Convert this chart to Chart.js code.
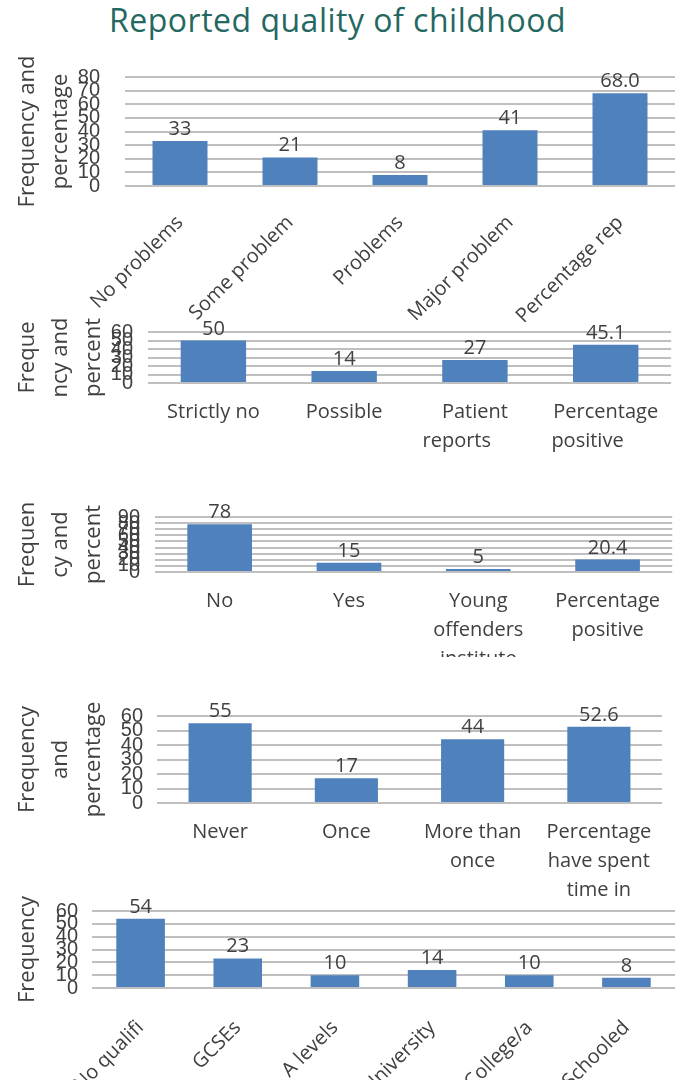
<!DOCTYPE html>
<html>
<head>
<meta charset="utf-8">
<script src="https://cdn.jsdelivr.net/npm/chart.js@4.4.1/dist/chart.umd.min.js"></script>
<style>
  body { margin: 0; background: #fff; width: 675px; height: 1080px; position: relative; overflow: hidden; }
  #title {
    position: absolute; top: 4px; left: 0; width: 675px; margin: 0;
    text-align: center; font: 400 32px "Open Sans", sans-serif; line-height: 1;
    letter-spacing: 0.5px; color: #256862;
  }
  canvas { position: absolute; left: 0; }
</style>
</head>
<body>
<h1 id="title">Reported quality of childhood</h1>
<canvas id="c1"></canvas>
<canvas id="c2"></canvas>
<canvas id="c3"></canvas>
<canvas id="c4"></canvas>
<canvas id="c5"></canvas>
<script>
// Panel 1 - quality of childhood
const childhoodLabels = ["No problems", "Some problem", "Problems", "Major problem", "Percentage rep"];
const childhoodValues = [33, 21, 8, 41, 68.0];
const childhoodDecimals = [0, 0, 0, 0, 1];
const childhoodAxisTitle = ["Frequency and", "percentage"];
const childhoodMax = 80;

// Panel 2
const reportLabels = ["Strictly no", "Possible", ["Patient", "reports"], ["Percentage", "positive"]];
const reportValues = [50, 14, 27, 45.1];
const reportDecimals = [0, 0, 0, 1];
const reportAxisTitle = ["Freque", "ncy and", "percent"];
const reportMax = 60;

// Panel 3
const custodyLabels = ["No", "Yes", ["Young", "offenders", "institute"], ["Percentage", "positive"]];
const custodyValues = [78, 15, 5, 20.4];
const custodyDecimals = [0, 0, 0, 1];
const custodyAxisTitle = ["Frequen", "cy and", "percent"];
const custodyMax = 90;

// Panel 4
const spentLabels = ["Never", "Once", ["More than", "once"], ["Percentage", "have spent", "time in"]];
const spentValues = [55, 17, 44, 52.6];
const spentDecimals = [0, 0, 0, 1];
const spentAxisTitle = ["Frequency", "and", "percentage"];
const spentMax = 60;

// Panel 5 - qualifications
const qualLabels = ["No qualifi", "GCSEs", "A levels", "University", "College/a", "Schooled"];
const qualValues = [54, 23, 10, 14, 10, 8];
const qualDecimals = [0, 0, 0, 0, 0, 0];
const qualAxisTitle = ["Frequency"];
const qualMax = 60;

const tickStep = 10;

Chart.defaults.font.family = '"Open Sans", sans-serif';
Chart.defaults.color = "#404040";

// value above each bar
const valueLabelPlugin = {
  id: "valueLabels",
  afterDatasetsDraw(chart, args, opts) {
    const ctx = chart.ctx;
    const data = chart.data.datasets[0].data;
    ctx.save();
    ctx.font = '20px "Open Sans", sans-serif';
    ctx.fillStyle = "#404040";
    ctx.textAlign = "center";
    ctx.textBaseline = "alphabetic";
    chart.getDatasetMeta(0).data.forEach((bar, i) => {
      ctx.fillText(data[i].toFixed(opts.decimals[i]), bar.x, bar.y - 6);
    });
    ctx.restore();
  }
};

// the second line of wrapped labels sits left of centre in panel 2
function shiftLines(label, spaces) {
  if (!Array.isArray(label) || !spaces) return label;
  return label.map((line, i) => (i === 0 ? line : line + " ".repeat(spaces)));
}

const panels = [
  { id: "c1", labels: childhoodLabels, values: childhoodValues, decimals: childhoodDecimals, yTitle: childhoodAxisTitle, yMax: childhoodMax,
    rotate: true, top: 40, bottom: 345, plotTop: 72, plotBottom: 186, left: 125, right: 675, tickPad: 25, labelPad: 25 },
  { id: "c2", labels: reportLabels, values: reportValues, decimals: reportDecimals, yTitle: reportAxisTitle, yMax: reportMax,
    rotate: false, top: 305, bottom: 470, plotTop: 327, plotBottom: 383, left: 148, right: 675, tickPad: 15, labelPad: 15, shift: 7 },
  { id: "c3", labels: custodyLabels, values: custodyValues, decimals: custodyDecimals, yTitle: custodyAxisTitle, yMax: custodyMax,
    rotate: false, top: 490, bottom: 657, plotTop: 512, plotBottom: 572, left: 155, right: 675, tickPad: 15, labelPad: 15 },
  { id: "c4", labels: spentLabels, values: spentValues, decimals: spentDecimals, yTitle: spentAxisTitle, yMax: spentMax,
    rotate: false, top: 690, bottom: 905, plotTop: 713, plotBottom: 803, left: 157, right: 662, tickPad: 14, labelPad: 15 },
  { id: "c5", labels: qualLabels, values: qualValues, decimals: qualDecimals, yTitle: qualAxisTitle, yMax: qualMax,
    rotate: true, top: 885, bottom: 1080, plotTop: 908, plotBottom: 988, left: 92, right: 675, tickPad: 14, labelPad: 28 }
];

function makeChart(p) {
  const canvas = document.getElementById(p.id);
  canvas.width = 675;
  canvas.height = p.bottom - p.top;
  canvas.style.top = p.top + "px";
  return new Chart(canvas, {
    type: "bar",
    data: {
      labels: p.labels,
      datasets: [{ data: p.values, backgroundColor: "#4F81BD", categoryPercentage: 1, barPercentage: 0.5 }]
    },
    options: {
      responsive: false,
      animation: false,
      devicePixelRatio: 1,
      layout: { padding: { top: p.plotTop - p.top, right: 675 - p.right, left: 0, bottom: 0 } },
      plugins: {
        legend: { display: false },
        tooltip: { enabled: false },
        valueLabels: { decimals: p.decimals }
      },
      scales: {
        x: {
          grid: { display: false, drawTicks: false },
          border: { display: false },
          ticks: {
            autoSkip: false,
            maxRotation: p.rotate ? 45 : 0,
            minRotation: p.rotate ? 45 : 0,
            padding: p.labelPad,
            color: "#404040",
            font: { size: 20, lineHeight: p.rotate ? 1.2 : 1.45 },
            callback: (v, i) => shiftLines(p.labels[i], p.shift)
          },
          afterFit: (s) => { s.height = p.bottom - p.plotBottom; }
        },
        y: {
          min: 0,
          max: p.yMax,
          grid: { color: "#BFBFBF", lineWidth: 2, drawTicks: false },
          border: { display: false },
          ticks: {
            stepSize: tickStep,
            autoSkip: false,
            padding: p.tickPad,
            color: "#404040",
            font: { family: '"Liberation Sans Narrow", "Liberation Sans", sans-serif', size: 20 }
          },
          title: {
            display: true,
            text: p.yTitle,
            color: "#404040",
            font: { size: 22, lineHeight: 1.5 },
            padding: { top: 11, bottom: 0 }
          },
          afterFit: (s) => { s.width = p.left; }
        }
      }
    },
    plugins: [valueLabelPlugin]
  });
}

panels.forEach(makeChart);
</script>
</body>
</html>
